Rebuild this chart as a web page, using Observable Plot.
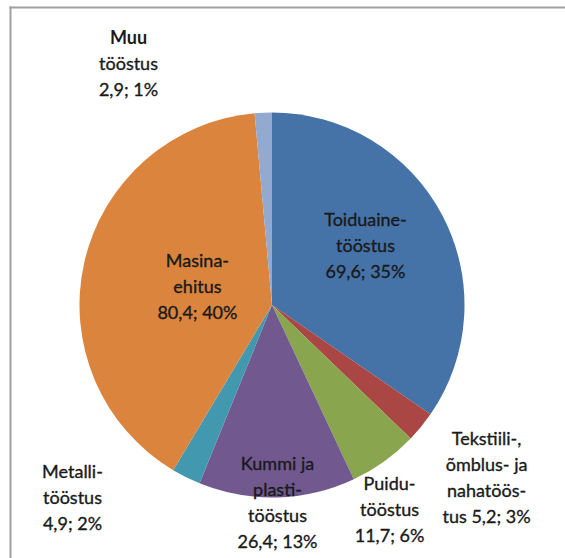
<!DOCTYPE html>
<html>
<head>
<meta charset="utf-8">
<script src="https://cdn.jsdelivr.net/npm/d3@7"></script>
<script src="https://cdn.jsdelivr.net/npm/@observablehq/plot@0.6"></script>
<style>
  html, body { margin: 0; padding: 0; background: #fff; }
</style>
</head>
<body>
<div id="chart"></div>
<script>
// ---- data ----
const names = [
  "Toiduaine-\ntööstus",
  "Tekstiili-,\nõmblus- ja\nnahatöös-\ntus",
  "Puidu-\ntööstus",
  "Kummi ja\nplasti-\ntööstus",
  "Metalli-\ntööstus",
  "Masina-\nehitus",
  "Muu\ntööstus"
];
const values = [69.6, 5.2, 11.7, 26.4, 4.9, 80.4, 2.9];
const percents = [35, 3, 6, 13, 2, 40, 1];
const colors = ["#4572A7", "#AA4643", "#89A54E", "#71588F", "#4198AF", "#DB843D", "#93A9CF"];
// separator between the name and the "value; percent" part
const separators = ["\n", " ", "\n", "\n", "\n", "\n", "\n"];
// label block centres, in pie-radius units relative to the pie centre (layout)
const labelX = [0.483, 1.112, 0.608, 0.026, -1.039, -0.390, -0.748];
const labelY = [0.306, -0.899, -1.065, -1.029, -1.003, 0.094, 1.252];
const boldFirstLine = [false, false, false, false, false, false, true];

// ---- layout ----
const W = 565, H = 558;
const R = 192.5;           // pie radius in px
const CX = 272, CY = 305;  // pie centre in px
const mL = 10, mT = 7;
const lineH = 26 / R;      // line spacing in radius units

const fmt = v => v.toFixed(1).replace(".", ",");
const arcs = d3.pie().sort(null).value(d => d)(values);

// build one row per text line
const rows = [];
names.forEach((nm, i) => {
  const full = nm + separators[i] + fmt(values[i]) + "; " + percents[i] + "%";
  const lines = full.split("\n");
  const n = lines.length;
  lines.forEach((t, k) => {
    rows.push({
      x: labelX[i],
      y: labelY[i] - (k - (n - 1) / 2) * lineH,
      text: t,
      bold: boldFirstLine[i] && k === 0
    });
  });
});

const pieMark = (index, scales) => {
  const cx = scales.x(0), cy = scales.y(0);
  const r = scales.x(1) - scales.x(0);
  const g = d3.create("svg:g").attr("transform", `translate(${cx},${cy})`);
  const arc = d3.arc().innerRadius(0).outerRadius(r);
  g.selectAll("path").data(arcs).join("path")
    .attr("d", arc)
    .attr("fill", (d, i) => colors[i]);
  return g.node();
};

const chart = Plot.plot({
  width: W,
  height: H,
  marginLeft: mL,
  marginTop: mT,
  marginRight: 0,
  marginBottom: 0,
  style: { background: "#fff", fontFamily: "Lato, 'Open Sans', sans-serif" },
  x: { domain: [(mL - CX) / R, (W - CX) / R], axis: null },
  y: { domain: [(CY - H) / R, (CY - mT) / R], axis: null },
  marks: [
    Plot.frame({ anchor: "top", stroke: "#a0a0a0", strokeWidth: 2 }),
    Plot.frame({ anchor: "left", stroke: "#a0a0a0", strokeWidth: 2 }),
    pieMark,
    Plot.text(rows.filter(d => !d.bold), {
      x: "x", y: "y", text: "text",
      fontSize: 18, fill: "#1a1a1a", stroke: "#1a1a1a", strokeWidth: 0.35,
      textAnchor: "middle", lineAnchor: "middle"
    }),
    Plot.text(rows.filter(d => d.bold), {
      x: "x", y: "y", text: "text",
      fontSize: 18, fontWeight: "bold", fill: "#1a1a1a", textAnchor: "middle", lineAnchor: "middle"
    })
  ]
});
document.getElementById("chart").appendChild(chart);
</script>
</body>
</html>
